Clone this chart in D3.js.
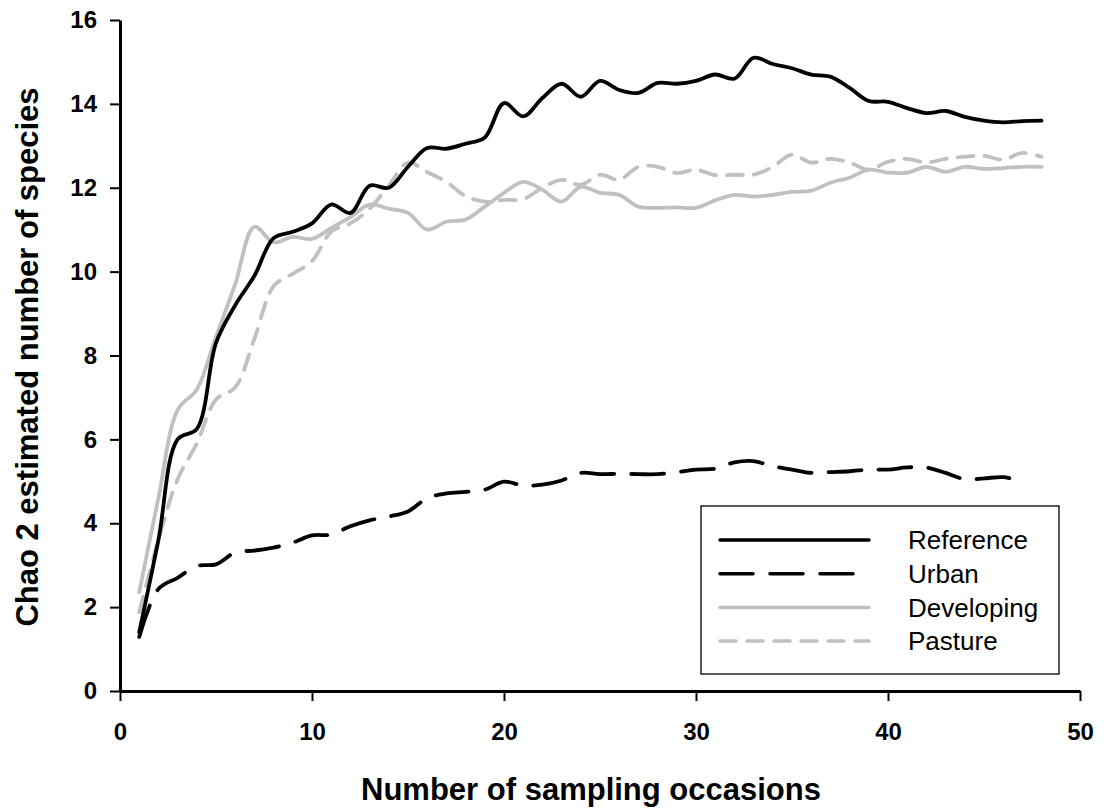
<!DOCTYPE html>
<html>
<head>
  <meta charset="UTF-8">
  <title>Chao 2</title>
  <style>
    body { margin: 0; background: #fff; }
    text { font-family: Arial, 'Liberation Sans', Helvetica, sans-serif; }
    .axis text { font-size: 24px; font-weight: bold; fill: #000; }
    .axis .domain { stroke: #000; stroke-width: 3px; }
    .axis .tick line { stroke: #000; stroke-width: 2px; }
    .title { font-size: 31px; font-weight: bold; }
    .legend text { font-size: 26px; }
  </style>
</head>
<body>
  <div id="chart"></div>
  <script src="https://d3js.org/d3.v7.min.js"></script>
  <script>

  // sampling occasions (x)
  var occasions = [1, 2, 3, 4, 5, 6, 7, 8, 9, 10, 11, 12, 13, 14, 15, 16, 17, 18, 19, 20, 21, 22, 23, 24,
                   25, 26, 27, 28, 29, 30, 31, 32, 33, 34, 35, 36, 37, 38, 39, 40, 41, 42, 43, 44, 45, 46, 47, 48];

  var reference = [1.4, 3.6, 6.0, 6.25, 8.3, 9.2, 9.9, 10.8, 10.95, 11.15, 11.6, 11.4, 12.05, 12.0, 12.5, 12.95,
                   12.93, 13.05, 13.2, 14.02, 13.7, 14.14, 14.48, 14.17, 14.55, 14.33, 14.26, 14.5, 14.48, 14.55,
                   14.7, 14.6, 15.1, 14.95, 14.85, 14.7, 14.65, 14.38, 14.07, 14.05, 13.9, 13.78, 13.83, 13.69,
                   13.6, 13.56, 13.59, 13.6];

  var urban = [1.29, 2.43, 2.7, 2.98, 3.02, 3.3, 3.35, 3.42, 3.54, 3.71, 3.73, 3.93, 4.07, 4.16, 4.28, 4.6,
               4.71, 4.75, 4.8, 4.99, 4.9, 4.92, 5.02, 5.2, 5.17, 5.18, 5.17, 5.17, 5.22, 5.28, 5.3, 5.45,
               5.48, 5.36, 5.28, 5.2, 5.22, 5.24, 5.28, 5.28, 5.33, 5.33, 5.2, 5.05, 5.07, 5.1, 5.0];

  var developing = [2.35, 4.6, 6.7, 7.19, 8.45, 9.7, 11.07, 10.7, 10.83, 10.78, 11.04, 11.3, 11.6, 11.5, 11.4,
                    11.0, 11.19, 11.24, 11.55, 11.88, 12.14, 11.95, 11.67, 12.02, 11.88, 11.83, 11.55, 11.52,
                    11.53, 11.52, 11.7, 11.83, 11.79, 11.83, 11.9, 11.93, 12.12, 12.24, 12.43, 12.36, 12.36,
                    12.5, 12.38, 12.5, 12.45, 12.47, 12.5, 12.5];

  var pasture = [1.88, 3.6, 5.05, 5.9, 6.95, 7.24, 8.4, 9.65, 9.95, 10.25, 10.95, 11.15, 11.5, 12.05, 12.6,
                 12.37, 12.14, 11.8, 11.67, 11.71, 11.73, 12.0, 12.19, 12.07, 12.31, 12.19, 12.5, 12.5, 12.35,
                 12.43, 12.3, 12.31, 12.31, 12.5, 12.79, 12.6, 12.69, 12.6, 12.43, 12.62, 12.69, 12.6, 12.69,
                 12.74, 12.76, 12.67, 12.83, 12.74];

  var xTicks = [0, 10, 20, 30, 40, 50];
  var yTicks = [0, 2, 4, 6, 8, 10, 12, 14, 16];

  var seriesNames = ["Reference", "Urban", "Developing", "Pasture"];
  var seriesData = [reference, urban, developing, pasture];
  var seriesColor = ["#000", "#000", "#c0c0c0", "#c0c0c0"];
  var seriesDash = [null, "33,17", null, "16,11"];

  //////////////////////////////////////////////////////////////////////

  var width = 1104, height = 811;
  var svg = d3.select("#chart").append("svg")
      .attr("width", width)
      .attr("height", height);

  var x = d3.scaleLinear().domain([0, 50]).range([120, 1080]);
  var y = d3.scaleLinear().domain([0, 16]).range([691, 20]);

  // axes
  svg.append("g")
    .attr("class", "axis")
    .attr("transform", "translate(0," + y(0) + ")")
    .call(d3.axisBottom(x).tickValues(xTicks).tickSize(10).tickSizeOuter(0).tickPadding(22))
    .selectAll("text").attr("dy", "0.71em");

  svg.append("g")
    .attr("class", "axis")
    .attr("transform", "translate(" + x(0) + ",0)")
    .call(d3.axisLeft(y).tickValues(yTicks).tickSize(10).tickSizeOuter(0).tickPadding(13));

  // axis titles
  svg.append("text")
    .attr("class", "title")
    .attr("x", 591).attr("y", 800)
    .attr("text-anchor", "middle")
    .text("Number of sampling occasions");

  svg.append("text")
    .attr("class", "title")
    .attr("transform", "translate(38,357) rotate(-90)")
    .attr("text-anchor", "middle")
    .text("Chao 2 estimated number of species");

  // lines
  var line = d3.line()
    .x(function(d, i) { return x(occasions[i]); })
    .y(function(d) { return y(d); })
    .curve(d3.curveCatmullRom.alpha(0.5));

  // draw gray first so black sits on top
  [3, 2, 1, 0].forEach(function(k) {
    svg.append("path")
      .attr("d", line(seriesData[k]))
      .attr("fill", "none")
      .attr("stroke", seriesColor[k])
      .attr("stroke-width", 3.8)
      .attr("stroke-linecap", "round")
      .attr("stroke-linejoin", "round")
      .attr("stroke-dasharray", seriesDash[k]);
  });

  // legend
  var legend = svg.append("g").attr("class", "legend");
  legend.append("rect")
    .attr("x", 701).attr("y", 506)
    .attr("width", 358).attr("height", 168)
    .attr("fill", "#fff")
    .attr("stroke", "#000")
    .attr("stroke-width", 1.3);

  seriesNames.forEach(function(name, k) {
    var ly = 540 + k * 33.7;
    legend.append("line")
      .attr("x1", 720).attr("x2", 869)
      .attr("y1", ly).attr("y2", ly)
      .attr("stroke", seriesColor[k])
      .attr("stroke-width", 3.5)
      .attr("stroke-linecap", "round")
      .attr("stroke-dasharray", seriesDash[k]);
    legend.append("text")
      .attr("x", 908).attr("y", ly)
      .attr("dy", "0.35em")
      .text(name);
  });

  </script>
</body>
</html>
